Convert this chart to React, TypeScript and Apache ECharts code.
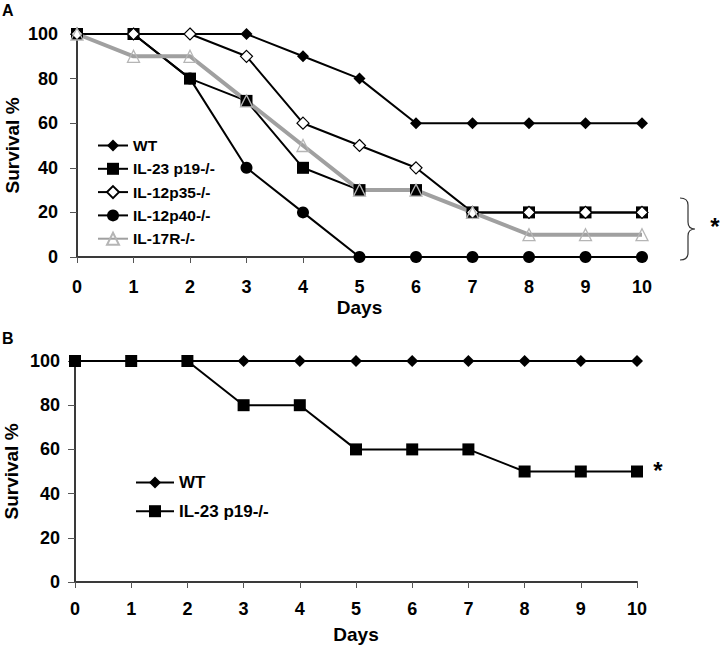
import React, { useEffect, useRef } from "react";
import * as echarts from "echarts";

const days = [0, 1, 2, 3, 4, 5, 6, 7, 8, 9, 10];
const yTicks = [0, 20, 40, 60, 80, 100];

// Panel A
const aWT = [100, 100, 100, 100, 90, 80, 60, 60, 60, 60, 60];
const aP19 = [100, 100, 80, 70, 40, 30, 30, 20, 20, 20, 20];
const aP35 = [100, 100, 100, 90, 60, 50, 40, 20, 20, 20, 20];
const aP40 = [100, 100, 80, 40, 20, 0, 0, 0, 0, 0, 0];
const a17R = [100, 90, 90, 70, 50, 30, 30, 20, 10, 10, 10];

// Panel B
const bWT = [100, 100, 100, 100, 100, 100, 100, 100, 100, 100, 100];
const bP19 = [100, 100, 100, 80, 80, 60, 60, 60, 50, 50, 50];

const legendA = ["WT", "IL-23 p19-/-", "IL-12p35-/-", "IL-12p40-/-", "IL-17R-/-"];
const legendB = ["WT", "IL-23 p19-/-"];

const pairs = (vals: number[]) => days.map((d, i) => [d, vals[i]]);

const FONT = "'Liberation Sans', Arial, sans-serif";

let braceRegistered = false;
function registerBrace() {
  if (braceRegistered) return;
  const d =
    "M0,0 C5,0 8,2 8,7 L8,24 C8,29 10,31 15,31 C10,31 8,33 8,38 L8,55 C8,60 5,62 0,62";
  echarts.graphic.registerShape("brace", echarts.graphic.extendPath(d, {}) as any);
  braceRegistered = true;
}

function makeXAxis(gridIndex: number, margin: number, nameGap: number) {
  return {
    type: "value",
    gridIndex,
    min: 0,
    max: 10,
    interval: 1,
    name: "Days",
    nameLocation: "middle",
    nameGap,
    nameMoveOverlap: false,
    nameTextStyle: { fontFamily: FONT, fontWeight: "bold", fontSize: 19, color: "#000" },
    axisLine: { show: true, onZero: false, lineStyle: { color: "#3a3a3a", width: 2 } },
    axisTick: { show: true, length: 6, lineStyle: { color: "#555", width: 1 } },
    axisLabel: { fontFamily: FONT, fontWeight: "bold", fontSize: 18, color: "#000", margin },
    splitLine: { show: false },
  };
}

function makeYAxis(gridIndex: number, margin: number, nameGap: number) {
  return {
    type: "value",
    gridIndex,
    min: yTicks[0],
    max: yTicks[yTicks.length - 1],
    interval: yTicks[1] - yTicks[0],
    name: "Survival %",
    nameLocation: "middle",
    nameGap,
    nameRotate: 90,
    nameMoveOverlap: false,
    nameTextStyle: { fontFamily: FONT, fontWeight: "bold", fontSize: 19, color: "#000" },
    axisLine: { show: true, onZero: false, lineStyle: { color: "#3a3a3a", width: 2 } },
    axisTick: { show: true, length: 7, lineStyle: { color: "#555", width: 1 } },
    axisLabel: { fontFamily: FONT, fontWeight: "bold", fontSize: 18, color: "#000", margin },
    splitLine: { show: false },
  };
}

export default function App() {
  const ref = useRef<HTMLDivElement>(null);

  useEffect(() => {
    if (!ref.current) return;
    registerBrace();
    const chart = echarts.init(ref.current, undefined, { renderer: "svg" });

    const blackLine = { color: "#000", width: 2 };

    const option: any = {
      animation: false,
      backgroundColor: "#fff",
      grid: [
        { left: 77, top: 34, width: 565, height: 223, containLabel: false, outerBoundsMode: "none" },
        { left: 75, top: 361, width: 562, height: 221, containLabel: false, outerBoundsMode: "none" },
      ],
      xAxis: [makeXAxis(0, 21, 41), makeXAxis(1, 18, 43)],
      yAxis: [makeYAxis(0, 19, 55), makeYAxis(1, 15, 54)],
      legend: [
        {
          data: legendA,
          orient: "vertical",
          left: 97,
          top: 137.5,
          padding: 0,
          itemWidth: 30,
          itemHeight: 15,
          itemGap: 7.3,
          selectedMode: false,
          textStyle: { fontFamily: FONT, fontWeight: "bold", fontSize: 15.5, lineHeight: 15, color: "#000" },
        },
        {
          data: legendB,
          orient: "vertical",
          left: 135,
          top: 474,
          padding: 0,
          itemWidth: 38,
          itemHeight: 15,
          itemGap: 11.7,
          selectedMode: false,
          textStyle: { fontFamily: FONT, fontWeight: "bold", fontSize: 17, lineHeight: 15, color: "#000" },
        },
      ],
      series: [
        {
          name: "WT",
          type: "line",
          xAxisIndex: 0,
          yAxisIndex: 0,
          data: pairs(aWT),
          symbol: "diamond",
          symbolSize: 12,
          lineStyle: blackLine,
          itemStyle: { color: "#000" },
        },
        {
          name: "IL-12p40-/-",
          type: "line",
          xAxisIndex: 0,
          yAxisIndex: 0,
          data: pairs(aP40),
          symbol: "circle",
          symbolSize: 12,
          lineStyle: blackLine,
          itemStyle: { color: "#000" },
        },
        {
          name: "IL-23 p19-/-",
          type: "line",
          xAxisIndex: 0,
          yAxisIndex: 0,
          data: pairs(aP19),
          symbol: "rect",
          symbolSize: 12,
          lineStyle: blackLine,
          itemStyle: { color: "#000" },
        },
        {
          name: "IL-12p35-/-",
          type: "line",
          xAxisIndex: 0,
          yAxisIndex: 0,
          data: pairs(aP35),
          symbol: "diamond",
          symbolSize: 12,
          lineStyle: blackLine,
          itemStyle: { color: "#fff", borderColor: "#000", borderWidth: 1.2 },
        },
        {
          name: "IL-17R-/-",
          type: "line",
          xAxisIndex: 0,
          yAxisIndex: 0,
          data: pairs(a17R),
          symbol: "triangle",
          symbolSize: 12,
          lineStyle: { color: "#a0a0a0", width: 4 },
          itemStyle: { color: "rgba(255,255,255,0)", borderColor: "#b5b5b5", borderWidth: 1.3 },
        },
        {
          name: "WT",
          type: "line",
          xAxisIndex: 1,
          yAxisIndex: 1,
          data: pairs(bWT),
          symbol: "diamond",
          symbolSize: 12,
          lineStyle: blackLine,
          itemStyle: { color: "#000" },
        },
        {
          name: "IL-23 p19-/-",
          type: "line",
          xAxisIndex: 1,
          yAxisIndex: 1,
          data: pairs(bP19),
          symbol: "rect",
          symbolSize: 12,
          lineStyle: blackLine,
          itemStyle: { color: "#000" },
        },
      ],
      graphic: [
        {
          type: "text",
          left: 2,
          top: 2,
          style: { text: "A", fontFamily: FONT, fontWeight: "bold", fontSize: 16, fill: "#000" },
        },
        {
          type: "text",
          left: 2,
          top: 330,
          style: { text: "B", fontFamily: FONT, fontWeight: "bold", fontSize: 16, fill: "#000" },
        },
        {
          type: "brace",
          x: 680,
          y: 198,
          shape: {},
          style: { fill: "none", stroke: "#333", lineWidth: 1.2 },
        },
        {
          type: "text",
          x: 715,
          y: 226,
          style: {
            text: "*",
            fontFamily: FONT,
            fontWeight: "bold",
            fontSize: 24,
            fill: "#000",
            textAlign: "center",
            textVerticalAlign: "middle",
          },
        },
        {
          type: "text",
          x: 658,
          y: 470,
          style: {
            text: "*",
            fontFamily: FONT,
            fontWeight: "bold",
            fontSize: 24,
            fill: "#000",
            textAlign: "center",
            textVerticalAlign: "middle",
          },
        },
      ],
    };

    chart.setOption(option);
    return () => chart.dispose();
  }, []);

  return (
    <div
      ref={ref}
      style={{ position: "absolute", left: 0, top: 0, width: 720, height: 646 }}
    />
  );
}
